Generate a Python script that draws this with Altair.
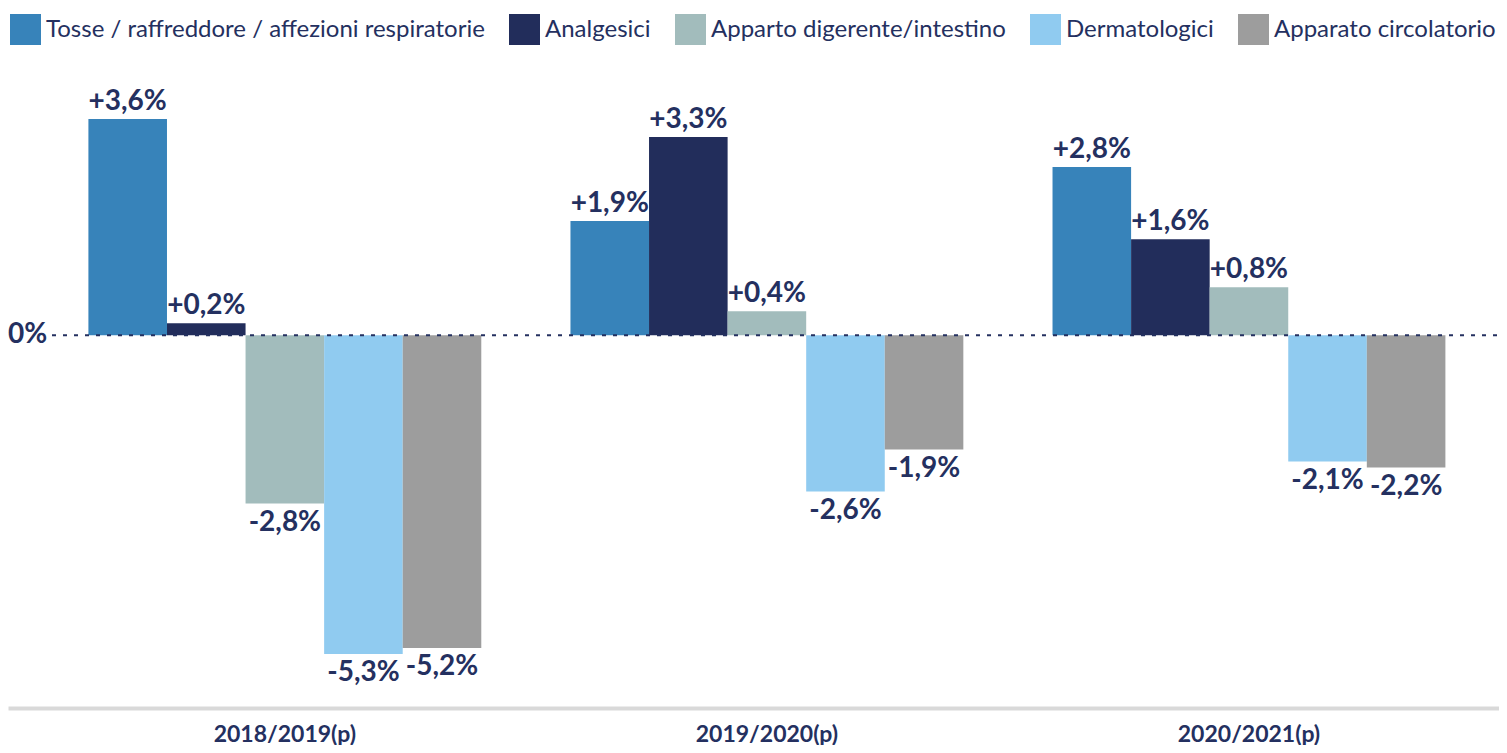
import altair as alt
import pandas as pd

periods = ["2018/2019(p)", "2019/2020(p)", "2020/2021(p)"]
series = [
    "Tosse / raffreddore / affezioni respiratorie",
    "Analgesici",
    "Apparto digerente/intestino",
    "Dermatologici",
    "Apparato circolatorio",
]
colors = ["#3783BA", "#222D5B", "#A2BCBC", "#90CBF0", "#9D9D9D"]

tosse = [3.6, 1.9, 2.8]
analgesici = [0.2, 3.3, 1.6]
digerente = [-2.8, 0.4, 0.8]
dermatologici = [-5.3, -2.6, -2.1]
circolatorio = [-5.2, -1.9, -2.2]

NAVY = "#243060"
FONT = "Lato"

rows = []
for s, vals in zip(series, [tosse, analgesici, digerente, dermatologici, circolatorio]):
    for p, v in zip(periods, vals):
        rows.append({
            "period": p,
            "series": s,
            "value": v,
            "label": f"{v:+.1f}%".replace(".", ","),
        })
df = pd.DataFrame(rows)
zero = pd.DataFrame({"v": [0]})

W, H = 1491, 648

x_enc = alt.X(
    "period:N",
    sort=periods,
    scale=alt.Scale(paddingInner=0.185, paddingOuter=0.139, align=0.6),
    axis=alt.Axis(
        title=None, orient="bottom", ticks=False, grid=False, domainColor="#D9D9D9",
        domainWidth=4, labelFont=FONT, labelFontSize=23, labelFontWeight="bold",
        labelColor=NAVY, labelPadding=15, labelAngle=0,
    ),
)
xo_enc = alt.XOffset("series:N", sort=series, scale=alt.Scale(paddingInner=0, paddingOuter=0))
y_scale = alt.Scale(domain=[-6.2, 4.58], nice=False, zero=False)
y_enc = alt.Y("value:Q", scale=y_scale, axis=None)

bars = alt.Chart(df).mark_bar(strokeWidth=0).encode(
    x=x_enc,
    xOffset=xo_enc,
    y=y_enc,
    color=alt.Color(
        "series:N",
        scale=alt.Scale(domain=series, range=colors),
        legend=alt.Legend(
            title=None, orient="none", legendX=2, legendY=-46, direction="horizontal",
            columns=5, symbolType="square", symbolSize=961, symbolStrokeWidth=0,
            symbolOpacity=1, labelFont=FONT, labelFontSize=24, labelColor=NAVY,
            labelLimit=700, columnPadding=24, labelOffset=5, padding=0,
        ),
    ),
)

pos_text = alt.Chart(df).transform_filter("datum.value >= 0").mark_text(
    baseline="bottom", dy=-3, font=FONT, fontSize=28, fontWeight="bold", color=NAVY
).encode(x=x_enc, xOffset=xo_enc, y=y_enc, text="label:N")

neg_text = alt.Chart(df).transform_filter("datum.value < 0").mark_text(
    baseline="top", dy=5, font=FONT, fontSize=28, fontWeight="bold", color=NAVY
).encode(x=x_enc, xOffset=xo_enc, y=y_enc, text="label:N")

zero_rule = alt.Chart(zero).mark_rule(
    color=NAVY, strokeWidth=2, strokeDash=[4, 7]
).encode(y=alt.Y("v:Q", scale=y_scale, axis=None), x=alt.value(44), x2=alt.value(W))

zero_label = alt.Chart(zero).mark_text(
    align="left", baseline="middle", font=FONT, fontSize=28, fontWeight="bold", color=NAVY
).encode(y=alt.Y("v:Q", scale=y_scale, axis=None), x=alt.value(0), text=alt.value("0%"))

chart = alt.layer(bars, zero_rule, pos_text, neg_text, zero_label).properties(
    width=W, height=H,
    autosize=alt.AutoSizeParams(type="none"),
    padding={"left": 0, "right": 0, "top": 52, "bottom": 37},
).configure(font=FONT).configure_view(strokeWidth=0, stroke=None)

chart.save("out.html", embed_options={"renderer": "svg", "actions": False})
